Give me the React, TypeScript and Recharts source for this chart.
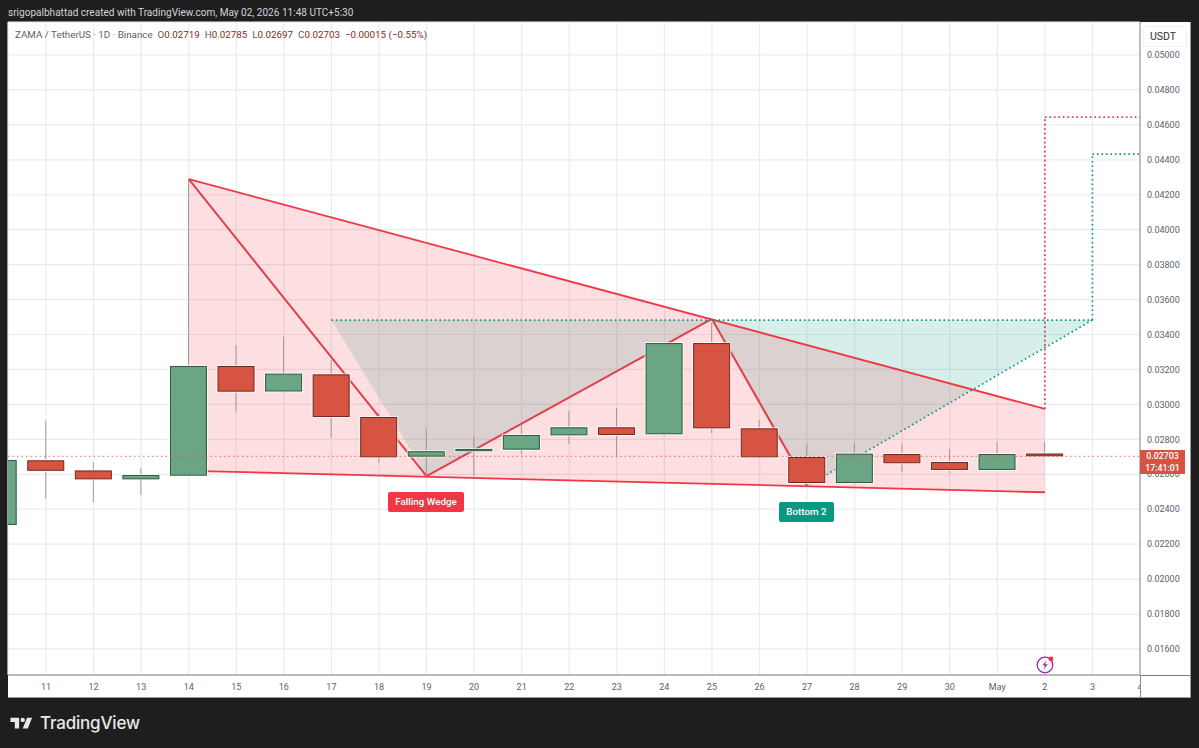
import React from "react";
import { ComposedChart, Bar, Area, XAxis, YAxis, CartesianGrid, ReferenceLine } from "recharts";

const dayIndex = [-1, 0, 1, 2, 3, 4, 5, 6, 7, 8, 9, 10, 11, 12, 13, 14, 15, 16, 17, 18, 19, 20, 21, 22, 23];
const dayLabels = ["10", "11", "12", "13", "14", "15", "16", "17", "18", "19", "20", "21", "22", "23", "24", "25", "26", "27", "28", "29", "30", "May", "2", "3", "4"];

const opens: (number | null)[] = [0.0231, 0.0268, 0.02622, 0.02571, 0.02592, 0.0322, 0.03074, 0.03172, 0.02928, 0.02701, 0.02732, 0.02741, 0.02823, 0.02869, 0.02829, 0.03351, 0.02863, 0.02699, 0.0255, 0.02716, 0.0267, 0.02625, 0.02719, null, null];
const highs: (number | null)[] = [0.0272, 0.02907, 0.0267, 0.02636, 0.0429, 0.0334, 0.03388, 0.03254, 0.02951, 0.02859, 0.02819, 0.02888, 0.02962, 0.02979, 0.03355, 0.0347, 0.02911, 0.02772, 0.02778, 0.02775, 0.02745, 0.02785, 0.02785, null, null];
const lows: (number | null)[] = [0.0231, 0.02462, 0.0244, 0.02481, 0.02592, 0.02958, 0.03065, 0.02808, 0.02666, 0.0259, 0.0259, 0.02714, 0.02773, 0.02699, 0.02819, 0.02836, 0.02694, 0.02533, 0.02539, 0.02615, 0.02607, 0.02622, 0.02697, null, null];
const closes: (number | null)[] = [0.02682, 0.0262, 0.02571, 0.02596, 0.0322, 0.03073, 0.03176, 0.02928, 0.02697, 0.02732, 0.02745, 0.02825, 0.02869, 0.02825, 0.03351, 0.02863, 0.02697, 0.0255, 0.02718, 0.02663, 0.02625, 0.02716, 0.02703, null, null];

const priceTicks = [0.016, 0.018, 0.02, 0.022, 0.024, 0.026, 0.028, 0.03, 0.032, 0.034, 0.036, 0.038, 0.04, 0.042, 0.044, 0.046, 0.048, 0.05];
const timeTicks = [0, 1, 2, 3, 4, 5, 6, 7, 8, 9, 10, 11, 12, 13, 14, 15, 16, 17, 18, 19, 20, 21, 22, 23];

// Falling wedge drawing: index -> [lower, upper]
const wedgeIdx = [3, 21];
const wedgeLower = [0.0262, 0.02497];
const wedgeUpper = [0.0429, 0.02974];
const zigIdx = [3, 8, 14, 16];
const zigPrice = [0.0429, 0.0259, 0.03489, 0.02533];

// Double bottom drawing
const neckline = 0.03483;
const bottomIdx = [6, 8, 14, 16, 22];
const bottomPrice = [0.03483, 0.0259, 0.03483, 0.02533, 0.03483];
const greenTarget = 0.04433;
const redTarget = 0.04645;
const lastPrice = 0.02703;

const RED = "#f23645";
const TEAL = "#089981";
const FONT = "Roboto, sans-serif";

const lerpTable = (idx: number[], vals: number[], i: number) => {
  const k = idx.indexOf(i);
  return k >= 0 ? vals[k] : null;
};

const rows = dayIndex.map((i, n) => {
  const wl = lerpTable(wedgeIdx, wedgeLower, i);
  const wu = lerpTable(wedgeIdx, wedgeUpper, i);
  const bl = lerpTable(bottomIdx, bottomPrice, i);
  return {
    i,
    label: dayLabels[n],
    open: opens[n],
    high: highs[n],
    low: lows[n],
    close: closes[n],
    wedge: wl != null && wu != null ? [wl, wu] : null,
    bottom: bl != null ? [bl, neckline] : null,
  };
});

const Candle = (p: any) => {
  const d = p.payload;
  if (!d || d.open == null) return null;
  const { x, y, width, height } = p;
  const span = d.high - d.low;
  const toY = (v: number) => y + ((d.high - v) / span) * height;
  const top = toY(Math.max(d.open, d.close));
  const bottom = toY(Math.min(d.open, d.close));
  const up = d.close >= d.open;
  const cx = x + width / 2;
  return (
    <g>
      <line x1={cx} x2={cx} y1={y} y2={y + height} stroke="#8f8f92" strokeOpacity={0.85} strokeWidth={1} />
      <rect x={x - 1} y={top - 1} width={width + 2} height={bottom - top + 2} fill="#ffffff" fillOpacity={0.75} />
      <rect
        x={x + 0.5}
        y={top + 0.5}
        width={width - 1}
        height={Math.max(bottom - top - 1, 0.5)}
        fill={up ? "#6ba583" : "#d75442"}
        stroke={up ? "#2a5c40" : "#70271d"}
        strokeWidth={1}
      />
    </g>
  );
};

const TimeTick = (p: any) => {
  const n = timeTicks.indexOf(p.payload.value);
  return (
    <text
      x={p.x}
      y={p.y + 8}
      textAnchor="middle"
      fontSize={9}
      fontFamily={FONT}
      fill="#5d606b"
      clipPath="url(#timeClip)"
    >
      {rows.find((r) => r.i === timeTicks[n])?.label}
    </text>
  );
};

const seg = (x1: number, y1: number, x2: number, y2: number, color: string, dotted: boolean, w = 1.8, key = "", z = 150) => (
  <ReferenceLine
    key={key || `${x1}-${y1}-${x2}-${y2}`}
    segment={[{ x: x1, y: y1 }, { x: x2, y: y2 }]}
    stroke={color}
    strokeWidth={w}
    strokeDasharray={dotted ? "1.6 2.9" : undefined}
    ifOverflow="visible"
    {...({ zIndex: z } as any)}
  />
);

const legendVal = { color: "#7d2d24" };

export default function App() {
  return (
    <div style={{ position: "absolute", left: 0, top: 0, width: 1199, height: 748, background: "#1e1e1e", overflow: "hidden", fontFamily: FONT }}>
      <div style={{ position: "absolute", left: 8, top: 22, width: 1183, height: 676, background: "#fff", boxSizing: "border-box", borderRight: "1px solid #9a9a9a", borderBottom: "1px solid #9a9a9a" }} />
      <div style={{ position: "absolute", left: 8, top: 6, fontSize: 10.05, color: "#d1d4dc", lineHeight: "13px", whiteSpace: "nowrap" }}>
        srigopalbhattad created with TradingView.com, May 02, 2026 11:48 UTC+5:30
      </div>
      <div style={{ position: "absolute", left: 0, top: 0 }}>
        <ComposedChart width={1199} height={748} data={rows} margin={{ top: 22, right: 8, bottom: 50, left: 8 }}>
          <defs>
            <clipPath id="timeClip">
              <rect x={0} y={0} width={1140} height={748} />
            </clipPath>
          </defs>
          <CartesianGrid stroke="#eaebee" strokeWidth={1.2} />
          <XAxis
            dataKey="i"
            type="number"
            domain={[-0.8, 23]}
            ticks={timeTicks}
            allowDataOverflow
            height={23}
            interval={0}
            tick={<TimeTick />}
            tickLine={false}
            tickSize={0}
            tickMargin={7}
            axisLine={{ stroke: "#7c7c7c", strokeWidth: 1 }}
          />
          <YAxis
            orientation="right"
            type="number"
            domain={[0.01451, 0.05189]}
            ticks={priceTicks}
            allowDataOverflow
            width={51}
            interval={0}
            tickFormatter={(v: number) => v.toFixed(5)}
            tick={{ fontSize: 9, fontFamily: FONT, fill: "#5d606b" }}
            tickLine={false}
            tickSize={0}
            tickMargin={7}
            axisLine={{ stroke: "#8a8a8a", strokeWidth: 1 }}
          />
          <Area dataKey="bottom" type="linear" connectNulls stroke="none" fill={TEAL} fillOpacity={0.16} dot={false} activeDot={false} isAnimationActive={false} />
          <Area dataKey="wedge" type="linear" connectNulls stroke="none" fill={RED} fillOpacity={0.16} dot={false} activeDot={false} isAnimationActive={false} />
          {seg(wedgeIdx[0], wedgeUpper[0], wedgeIdx[1], wedgeUpper[1], RED, false, 1.8, "top")}
          {seg(wedgeIdx[0], wedgeLower[0], wedgeIdx[1], wedgeLower[1], RED, false, 1.8, "low")}
          {zigIdx.slice(1).map((x, k) => seg(zigIdx[k], zigPrice[k], x, zigPrice[k + 1], "#e0404c", false, 2, `z${k}`))}
          {seg(bottomIdx[0], neckline, bottomIdx[4], neckline, TEAL, true, 1.7, "neck")}
          {seg(bottomIdx[3], bottomPrice[3], bottomIdx[4], bottomPrice[4], TEAL, true, 1.7, "rise")}
          {seg(bottomIdx[4], neckline, bottomIdx[4], greenTarget, TEAL, true, 1.7, "gv")}
          {seg(bottomIdx[4], greenTarget, 23, greenTarget, TEAL, true, 1.7, "gh")}
          {seg(wedgeIdx[1], wedgeUpper[1], wedgeIdx[1], redTarget, RED, true, 1.7, "rv")}
          {seg(wedgeIdx[1], redTarget, 23, redTarget, RED, true, 1.7, "rh")}
          <Bar dataKey={(d: any) => (d.low == null ? null : [d.low, d.high])} barSize={37} shape={<Candle />} isAnimationActive={false} />
          {seg(-0.8, lastPrice, 23, lastPrice, "#d75442", true, 0.8, "last", 700)}
        </ComposedChart>
      </div>

      {/* axis line extensions */}
      <div style={{ position: "absolute", left: 1140, top: 675, width: 51, height: 1, background: "#7c7c7c" }} />
      <div style={{ position: "absolute", left: 1140, top: 675, width: 1, height: 22, background: "#8a8a8a" }} />

      {/* legend */}
      <div style={{ position: "absolute", left: 15, top: 29, fontSize: 9.8, lineHeight: "12px", color: "#5d606b", whiteSpace: "nowrap" }}>
        ZAMA / TetherUS · 1D · Binance&nbsp; O<span style={legendVal}>0.02719</span>&nbsp; H<span style={legendVal}>0.02785</span>&nbsp; L<span style={legendVal}>0.02697</span>&nbsp; C<span style={legendVal}>0.02703</span>&nbsp; <span style={legendVal}>−0.00015 (−0.55%)</span>
      </div>

      {/* price scale currency button */}
      <div style={{ position: "absolute", left: 1143, top: 26, width: 44, height: 21, boxSizing: "border-box", border: "1px solid #eef0f3", borderRadius: 3, fontSize: 10.5, color: "#333", paddingLeft: 6, lineHeight: "19px" }}>USDT</div>

      {/* last price tag */}
      <div style={{ position: "absolute", left: 1140, top: 450, width: 45, height: 24, background: "#d75442", color: "#fff", fontSize: 8.8, fontWeight: 500, textAlign: "center", lineHeight: "11.5px", paddingTop: 1, boxSizing: "border-box" }}>
        0.02703
        <br />
        17:41:01
      </div>

      {/* pattern labels */}
      <div style={{ position: "absolute", left: 388, top: 492, width: 76, height: 20, background: RED, borderRadius: 2, color: "#fff", fontSize: 9.8, fontWeight: 500, textAlign: "center", lineHeight: "20px" }}>Falling Wedge</div>
      <div style={{ position: "absolute", left: 779, top: 502, width: 55, height: 20, background: TEAL, borderRadius: 2, color: "#fff", fontSize: 9.8, fontWeight: 500, textAlign: "center", lineHeight: "20px" }}>Bottom 2</div>

      {/* flash icon */}
      <svg style={{ position: "absolute", left: 1035, top: 655 }} width={22} height={20} viewBox="0 0 22 20">
        <circle cx={10} cy={10} r={7.8} fill="none" stroke="#9c27b0" strokeWidth={1.3} />
        <path d="M11.5 5.5 L7.5 10.5 H10 L8.5 14.5 L12.8 9.2 H10.2 Z" fill="#9c27b0" />
        <circle cx={16} cy={4} r={2.4} fill="#f7323f" />
      </svg>

      {/* TradingView logo */}
      <svg style={{ position: "absolute", left: 9, top: 713 }} width={26} height={21} viewBox="0 0 36 28">
        <path d="M14 6H2v6h6v9h6V6Zm12 15h-7l6-15h7l-6 15Zm-7-9a3 3 0 1 0 0-6 3 3 0 0 0 0 6Z" fill="#e8e8e8" />
      </svg>
      <div style={{ position: "absolute", left: 40, top: 711, fontSize: 17, fontWeight: 500, color: "#e8e8e8", lineHeight: "24px", fontFamily: "Inter, Roboto, sans-serif", letterSpacing: "-0.2px" }}>TradingView</div>
    </div>
  );
}
